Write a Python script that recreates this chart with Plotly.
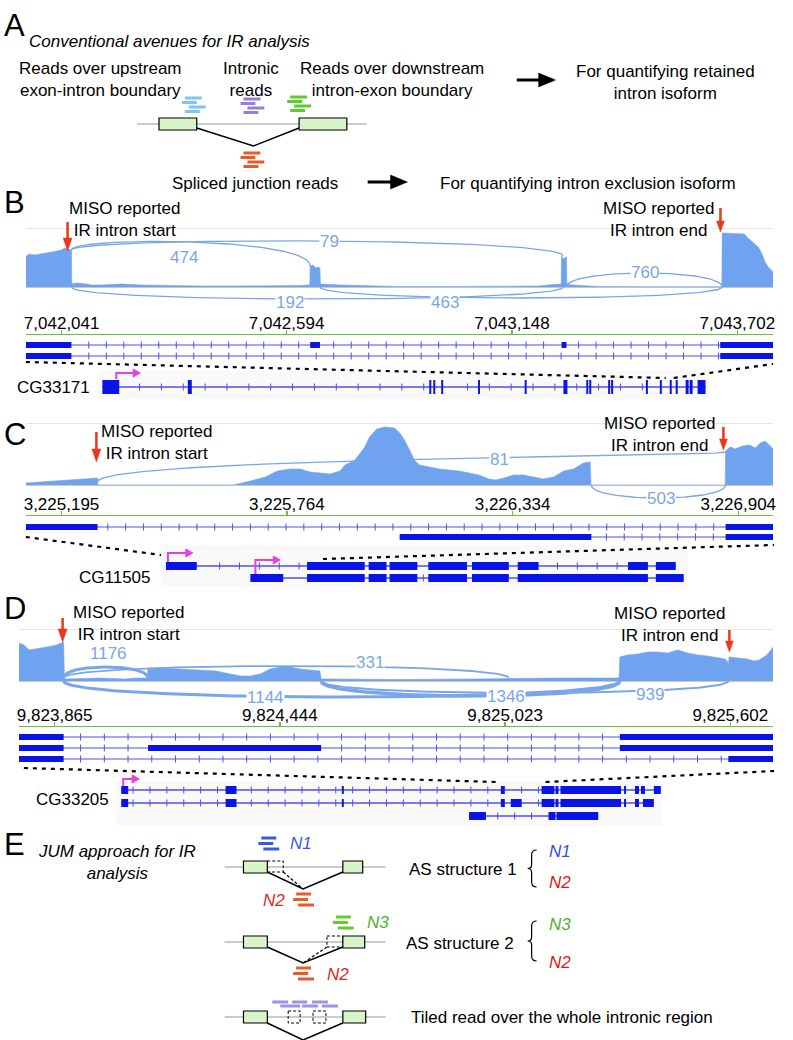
import numpy as np
import plotly.graph_objects as go

W, H = 793, 1040
OFF = 0
FONT = "Liberation Sans, Arial, Helvetica, sans-serif"

# ---------------- colours ----------------
COV = "#6fa3f0"
ARC = "#79a6ea"
EXON = "#0a14e6"
INTRON = "#4b50e6"
GREEN = "#6cbf3c"
RED = "#e8381e"
MAGENTA = "#e441e0"
BOXFILL = "#d7f5c8"

# ---------------- Panel B data (genomic offsets from window start) ----------------
B_start, B_end = 7041953, 7043790
B_ticks = [7042041, 7042594, 7043148, 7043702]
B_cov_pos = [0, 7, 22, 39, 51, 64, 76, 88, 95, 103, 112, 113, 125, 149, 161, 186, 234, 283, 332, 381,
             430, 528, 601, 674, 694, 698, 699, 706, 712, 718, 723, 724, 772, 821, 870, 918, 1041, 1163,
             1260, 1285, 1309, 1316, 1317, 1321, 1329, 1330, 1345, 1383, 1407, 1529, 1651, 1711, 1712,
             1766, 1778, 1790, 1800, 1810, 1817, 1825, 1837]
B_cov_val = [30, 33, 32, 33, 34, 35, 36, 37, 39, 38, 37, 3, 4, 3, 2, 2, 3, 2, 1.5, 1,
             1, 1, 1, 1.5, 2, 2, 21, 22, 19, 20, 19, 3, 2, 1.5, 1, 0.5, 0.5, 0.5,
             1, 2, 3, 3, 31, 28, 30, 3, 2, 1, 0.5, 0.3, 0.3, 0.3, 54,
             53, 48, 44, 40, 33, 25, 20, 15]
B_junc_from = [112, 112, 1329, 112, 723]
B_junc_to = [1321, 699, 1712, 1321, 1712]
B_junc_count = [79, 474, 760, 192, 463]
B_junc_y0 = [37, 37, 0, 0, 0]
B_junc_y1 = [31, 21, 0, 0, 0]
B_junc_peak = [46, 45, 14, -12, -11]
B_junc_label_pos = [747, 388, 1522, 650, 1031]
B_junc_label_y = [46, 30, 15, -15, -15]
B_junc_width = [1.3, 1.3, 1.3, 1.3, 1.3]
B_transcripts = [[(0, 112), (699, 723), (1317, 1329), (1707, 1837)],
                 [(0, 112), (1707, 1837)]]

# ---------------- Panel C data ----------------
C_start, C_end = 3225105, 3226992
C_ticks = [3225195, 3225764, 3226334, 3226904]
C_cov_pos = [0, 40, 78, 115, 153, 178, 181, 182, 524, 567, 605, 635, 668, 693, 718, 743, 768, 793,
             806, 831, 856, 868, 886, 906, 931, 944, 956, 969, 981, 994, 1044, 1094, 1144, 1169, 1187,
             1207, 1232, 1257, 1282, 1307, 1333, 1358, 1383, 1408, 1425, 1427, 1766, 1767, 1779, 1792,
             1809, 1827, 1842, 1855, 1867, 1877, 1887]
C_cov_val = [2, 3, 4, 5, 6, 7, 7, 0, 0, 4, 8, 14, 16, 16, 13, 12, 11, 14,
             20, 25, 38, 48, 56, 58, 57, 52, 45, 35, 25, 20, 16, 14, 10, 6, 5,
             7, 10, 10, 8, 6, 8, 14, 16, 22, 23, 0, 0, 34, 38, 36,
             39, 40, 37, 42, 44, 40, 36]
C_junc_from = [181, 1428]
C_junc_to = [1767, 1767]
C_junc_count = [81, 503]
C_junc_y0 = [3, 0]
C_junc_y1 = [33, 0]
C_junc_peak = [25.5, -13]
C_junc_label_pos = [1195, 1604]
C_junc_label_y = [26, -13]
C_junc_width = [1.3, 1.3]
C_transcripts = [[(0, 181), (1767, 1887)],
                 [(944, 1428), (1767, 1887)]]

# ---------------- Panel D data ----------------
D_start, D_end = 9823773, 9825712
D_ticks = [9823865, 9824444, 9825023, 9825602]
D_cov_pos = [0, 13, 26, 46, 72, 97, 110, 115, 117, 212, 271, 301, 330, 332, 365, 416, 467, 506,
             544, 570, 595, 621, 646, 672, 697, 723, 748, 774, 777, 978, 1175, 1259, 1387, 1543,
             1545, 1565, 1591, 1617, 1642, 1668, 1694, 1719, 1745, 1770, 1796, 1816, 1821, 1824,
             1826, 1847, 1872, 1890, 1903, 1923, 1939]
D_cov_val = [38, 36, 31, 32, 34, 36, 38, 39, 2, 3, 2, 3, 3, 13, 13, 12, 11, 10,
             7, 5, 5, 7, 12, 14, 14, 12, 11, 10, 2, 1.5, 2, 2.5, 3, 3,
             24, 26, 27, 29, 29, 28, 31, 28, 26, 25, 23, 22, 20, 16,
             24, 23, 22, 20, 21, 26, 34]
D_junc_from = [115, 115, 115, 777, 777]
D_junc_to = [332, 1259, 1545, 1545, 1824]
D_junc_count = [1176, 331, 1144, 1346, 939]
D_junc_y0 = [3, 3, 0, 0, 0]
D_junc_y1 = [3, 3, 0, 0, 0]
D_junc_peak = [14, 15, -16, -15, -12]
D_junc_label_pos = [230, 902, 633, 1252, 1622]
D_junc_label_y = [28, 19, -16, -15, -13]
D_junc_width = [3, 1.8, 3, 3.5, 2]
D_transcripts = [[(0, 115), (1545, 1939)],
                 [(0, 115), (332, 777), (1545, 1939)],
                 [(0, 115), (1824, 1939)]]

# ---------------- full gene models (schematic units) ----------------
B_gene_name = "CG33171"
B_gene_rows = [[(101, 118), (187, 191), (430, 432), (434, 436), (442, 444), (479, 481), (526, 528),
                (565, 569), (588, 590), (591, 593), (610, 612), (613, 615), (648, 650), (662, 664),
                (672, 674), (678, 680), (688, 691), (692, 695), (700, 708)]]
C_gene_name = "CG11505"
C_gene_rows = [[(165, 196), (307, 365), (369, 387), (390, 418), (429, 468), (473, 510), (519, 540),
                (630, 650), (658, 678)],
               [(250, 283), (307, 365), (369, 387), (390, 418), (429, 468), (473, 510), (519, 650),
                (658, 686)]]
D_gene_name = "CG33205"
D_gene_rows = [[(120, 127), (225, 236), (342, 344), (502, 506), (543, 556), (557, 560), (562, 623),
                (626, 628), (637, 641), (643, 647), (656, 663)],
               [(120, 127), (225, 236), (342, 344), (502, 506), (512, 523), (543, 556), (557, 560),
                (562, 623), (626, 628), (637, 641), (645, 656)],
               [(470, 487), (550, 557), (558, 600)]]

# ---------------- text ----------------
A_title = "<i>Conventional avenues for IR analysis</i>"
A_labels = ["Reads over upstream<br>exon-intron boundary", "Intronic<br>reads",
            "Reads over downstream<br>intron-exon boundary"]
A_outcomes = ["For quantifying retained<br>intron isoform", "For quantifying intron exclusion isoform"]
E_title = "<i>JUM approach for IR<br>analysis</i>"
E_structs = ["AS structure 1", "AS structure 2", "Tiled read over the whole intronic region"]

# =====================================================================
fig = go.Figure()
shapes = []
annots = []


def line(x0, y0, x1, y1, color="black", width=1.0, dash=None, xref="x", yref="y", layer="above"):
    d = dict(type="line", x0=x0, y0=y0, x1=x1, y1=y1, xref=xref, yref=yref, layer=layer,
             line=dict(color=color, width=width))
    if dash:
        d["line"]["dash"] = dash
    shapes.append(d)


def rect(x0, y0, x1, y1, fill, color=None, width=0, dash=None, xref="x", yref="y", layer="above"):
    d = dict(type="rect", x0=x0, y0=y0, x1=x1, y1=y1, xref=xref, yref=yref, layer=layer,
             fillcolor=fill, line=dict(color=color or fill, width=width))
    if dash:
        d["line"]["dash"] = dash
    shapes.append(d)


def path(p, fill=None, color="black", width=1.0, xref="x", yref="y"):
    d = dict(type="path", path=p, xref=xref, yref=yref, line=dict(color=color, width=width))
    d["fillcolor"] = fill if fill else "rgba(0,0,0,0)"
    shapes.append(d)


def text(t, x, y, size=17, color="black", xanchor="center", align="center", xref="x", yref="y",
         bg=None):
    a = dict(text=t, x=x, y=y, xref=xref, yref=yref, showarrow=False, xanchor=xanchor,
             yanchor="middle", align=align, font=dict(family=FONT, size=size, color=color))
    if bg:
        a.update(bgcolor=bg, borderpad=0)
    annots.append(a)


def bez(x0, x1, y0, y1, peak, n=120):
    c = (peak - (y0 + y1) / 8.0) / 0.75
    t = np.linspace(0, 1, n)
    x = ((1 - t) ** 3 + 3 * (1 - t) ** 2 * t) * x0 + (3 * (1 - t) * t ** 2 + t ** 3) * x1
    y = (1 - t) ** 3 * y0 + 3 * (1 - t) * t * c + t ** 3 * y1
    return x, y


def sashimi(xa, ya_cov, ya_gene, start, cov_pos, cov_val, jf, jt, jc, jy0, jy1, jpk, jlp, jly, jw,
            transcripts, row_vals, chev_step):
    fig.add_trace(go.Scatter(x=start + np.asarray(cov_pos), y=cov_val, mode="lines",
                             line=dict(width=0.6, color=COV), fill="tozeroy", fillcolor=COV,
                             xaxis=xa, yaxis=ya_cov, hoverinfo="skip", showlegend=False))
    for i in range(len(jf)):
        x, y = bez(start + jf[i], start + jt[i], jy0[i], jy1[i], jpk[i])
        fig.add_trace(go.Scatter(x=x, y=y, mode="lines", line=dict(width=jw[i], color=ARC),
                                 xaxis=xa, yaxis=ya_cov, hoverinfo="skip", showlegend=False))
    for i in range(len(jf)):
        text(str(jc[i]), start + jlp[i], jly[i], size=17, color=ARC, xref=xa, yref=ya_cov, bg="white")
    cx, cy, wx, wy = [], [], [], []
    for exons, rv in zip(transcripts, row_vals):
        s = start + exons[0][0]
        e = start + exons[-1][1]
        line(s, rv, e, rv, color=INTRON, width=1.2, xref=xa, yref=ya_gene)
        for a, b in exons:
            rect(start + a, rv - 3, start + b, rv + 3, EXON, xref=xa, yref=ya_gene)
        for p in np.arange(s + chev_step * 0.6, e, chev_step):
            inside = [(start + a + 6 <= p <= start + b - 6) for a, b in exons]
            if all(not (start + a - 4 <= p <= start + b + 4) for a, b in exons):
                cx.append(p)
                cy.append(rv)
            elif any(inside):
                wx.append(p)
                wy.append(rv)
    fig.add_trace(go.Scatter(x=cx, y=cy, mode="markers",
                             marker=dict(symbol="line-ns", size=5, line=dict(width=1, color=INTRON)),
                             xaxis=xa, yaxis=ya_gene, hoverinfo="skip", showlegend=False))
    fig.add_trace(go.Scatter(x=wx, y=wy, mode="markers",
                             marker=dict(symbol="line-ns", size=3,
                                         line=dict(width=0.8, color="rgba(255,255,255,0.6)")),
                             xaxis=xa, yaxis=ya_gene, hoverinfo="skip", showlegend=False))


def gene_model(name, rows, row_y, h, name_x, name_y, bg, chev_step, tss):
    rect(bg[0], bg[1], bg[2], bg[3], "#f9f9f9", layer="below")
    cx, cy = [], []
    for exons, ry in zip(rows, row_y):
        line(exons[0][0], ry, exons[-1][1], ry, color=INTRON, width=1.5)
        for a, b in exons:
            rect(a, ry - h / 2, b, ry + h / 2, EXON)
        for p in np.arange(exons[0][0] + chev_step * 0.7, exons[-1][1], chev_step):
            if all(not (a - 3 <= p <= b + 3) for a, b in exons):
                cx.append(p)
                cy.append(ry)
    fig.add_trace(go.Scatter(x=cx, y=cy, mode="markers",
                             marker=dict(symbol="line-ns", size=5, line=dict(width=1, color=INTRON)),
                             xaxis="x", yaxis="y", hoverinfo="skip", showlegend=False))
    text(name, name_x, name_y)
    for (x, yb, yt, xe) in tss:
        path(f"M {x},{yb} L {x},{yt} L {xe - 6},{yt}", color=MAGENTA, width=2)
        path(f"M {xe - 7},{yt - 4} L {xe},{yt} L {xe - 7},{yt + 4} Z", fill=MAGENTA, color=MAGENTA, width=1)


def red_arrow(x, y0, y1, hl=13, hw=9):
    line(x, y0, x, y1 - hl + 2, color=RED, width=2.5)
    path(f"M {x - hw / 2},{y1 - hl} L {x + hw / 2},{y1 - hl} L {x},{y1} Z", fill=RED, color=RED, width=0.5)


def black_arrow(x0, x1, y, hl=17, hw=14):
    line(x0, y, x1 - hl + 2, y, color="black", width=3)
    path(f"M {x1 - hl},{y - hw / 2} L {x1},{y} L {x1 - hl},{y + hw / 2} Z", fill="black", color="black",
         width=0.5)


def reads(a, y0, color, pattern):
    for (u, v, dy) in pattern:
        line(a + u, y0 + dy, a + v, y0 + dy, color=color, width=3)


READ4 = [(3, 20, 0), (0, 15, 4.5), (7, 24, 9), (3, 18, 13.5)]
READ3 = [(3, 18, 0), (0, 15, 5.5), (5, 21, 11)]


def exon_box(x0, x1, y0, y1):
    rect(x0, y0, x1, y1, BOXFILL, color="black", width=1.2)


def brace(x, y0, y1):
    ym = (y0 + y1) / 2
    path(f"M {x + 5},{y0} Q {x},{y0} {x},{y0 + 5} L {x},{ym - 4} Q {x},{ym} {x - 4},{ym} "
         f"Q {x},{ym} {x},{ym + 4} L {x},{y1 - 5} Q {x},{y1} {x + 5},{y1}", color="black", width=1.2)


# ---------------- Panel A ----------------
text("A", 0, 25, size=31, xanchor="left")
text(A_title, 25, 41, xanchor="left")
text(A_labels[0], 99, 79)
text(A_labels[1], 251, 79)
text(A_labels[2], 392, 79)
black_arrow(518, 557, 80)
text(A_outcomes[0], 668, 82)
line(136, 124, 367, 124, color="#8c9c9c", width=1.2)
path("M 196,128 L 253,146 L 299,128", color="black", width=1.5)
exon_box(158, 196, 118, 130)
exon_box(299, 347, 118, 130)
reads(181, 98, "#78c8f0", READ4)
reads(240, 99, "#9280e0", READ4)
reads(287, 97, "#5ccc2e", READ4)
reads(240, 153, "#e85a28", READ4)
text("Spliced junction reads", 255, 183)
black_arrow(368, 408, 182)
text(A_outcomes[1], 590, 183)

# ---------------- Panel B ----------------
text("B", 0, 202, size=31, xanchor="left")
text("MISO reported<br>IR intron start", 124, 219)
red_arrow(66, 222, 251)
text("MISO reported<br>IR intron end", 661, 219)
red_arrow(723, 208, 232, hl=11, hw=8)
sashimi("x2", "y2", "y3", B_start, B_cov_pos, B_cov_val, B_junc_from, B_junc_to, B_junc_count,
        B_junc_y0, B_junc_y1, B_junc_peak, B_junc_label_pos, B_junc_label_y, B_junc_width,
        B_transcripts, [17, 6], 43)
line(24, 362, 668, 378, width=2.2, dash="4px,5px")
line(676, 378, 776, 364, width=2.2, dash="4px,5px")
gene_model(B_gene_name, B_gene_rows, [387], 14, 52, 387, (97, 371, 712, 399), 22, [(115, 379, 373, 139)])

# ---------------- Panel C ----------------
text("C", 0, 434, size=31, xanchor="left")
text("MISO reported<br>IR intron start", 156, 442)
red_arrow(95, 432, 462)
text("MISO reported<br>IR intron end", 662, 434)
red_arrow(726, 427, 450, hl=11, hw=8)
sashimi("x3", "y4", "y5", C_start, C_cov_pos, C_cov_val, C_junc_from, C_junc_to, C_junc_count,
        C_junc_y0, C_junc_y1, C_junc_peak, C_junc_label_pos, C_junc_label_y, C_junc_width,
        C_transcripts, [18, 8], 45)
line(24, 537, 160, 555, width=2.2, dash="4px,5px")
line(323, 559, 777, 545, width=2.2, dash="4px,5px")
gene_model(C_gene_name, C_gene_rows, [566, 578], 8, 114, 577, (160, 545, 690, 587), 20,
           [(167, 562, 553, 192), (255, 574, 560, 280)])

# ---------------- Panel D ----------------
text("D", 0, 608, size=31, xanchor="left")
text("MISO reported<br>IR intron start", 128, 623)
red_arrow(61, 618, 642)
text("MISO reported<br>IR intron end", 672, 624)
red_arrow(732, 630, 652, hl=11, hw=8)
sashimi("x4", "y6", "y7", D_start, D_cov_pos, D_cov_val, D_junc_from, D_junc_to, D_junc_count,
        D_junc_y0, D_junc_y1, D_junc_peak, D_junc_label_pos, D_junc_label_y, D_junc_width,
        D_transcripts, [28, 17, 6], 61)
line(22, 768, 497, 782, width=2.2, dash="4px,5px")
line(547, 782, 777, 771, width=2.2, dash="4px,5px")
gene_model(D_gene_name, D_gene_rows, [790, 803, 816], 8, 71, 799, (115, 781, 665, 826), 17,
           [(122, 786, 779, 138)])

# ---------------- Panel E ----------------
text("E", 0, 844, size=31, xanchor="left")
text(E_title, 116, 862)
# structure 1
line(224, 867, 386, 867, color="#8c9c9c", width=1.2)
path("M 267,872 L 303,889 L 343,872", width=1.5)
line(283, 872, 303, 889, width=1.2, dash="3px,2px")
rect(267, 861, 283, 872, "rgba(0,0,0,0)", color="black", width=1, dash="3px,2px")
exon_box(243, 267, 861, 873)
exon_box(343, 363, 861, 873)
reads(258, 838, "#3a5ae0", READ3)
text("<i>N1</i>", 288, 843, color="#3a5ae0", xanchor="left")
reads(293, 894, "#e85a28", READ3)
text("<i>N2</i>", 287, 900, color="#dd2a1a", xanchor="right")
# structure 2
line(224, 942, 386, 942, color="#8c9c9c", width=1.2)
path("M 267,947 L 303,963 L 343,947", width=1.5)
line(327, 947, 303, 963, width=1.2, dash="3px,2px")
rect(327, 936, 343, 947, "rgba(0,0,0,0)", color="black", width=1, dash="3px,2px")
exon_box(243, 267, 936, 948)
exon_box(343, 365, 936, 948)
reads(333, 917, "#62cc30", READ3)
text("<i>N3</i>", 365, 922, color="#50b030", xanchor="left")
reads(293, 968, "#e85a28", READ3)
text("<i>N2</i>", 325, 974, color="#dd2a1a", xanchor="left")
# structure 3
line(224, 1017, 386, 1017, color="#8c9c9c", width=1.2)
path("M 267,1023 L 303,1040 L 343,1023", width=1.5)
rect(288, 1011, 300, 1023, "rgba(0,0,0,0)", color="black", width=1, dash="3px,2px")
rect(313, 1011, 326, 1023, "rgba(0,0,0,0)", color="black", width=1, dash="3px,2px")
exon_box(243, 267, 1011, 1023)
exon_box(343, 366, 1011, 1023)
for (u, v, yy) in [(272, 288, 1002), (292, 307, 1002), (312, 328, 1002),
                   (280, 300, 1006), (302, 318, 1006), (322, 338, 1006)]:
    line(u, yy, v, yy, color="#a28fe8", width=3)
# right side
text(E_structs[0], 464, 869)
brace(533, 850, 887)
text("<i>N1</i>", 548, 851, color="#3050e0", xanchor="left")
text("<i>N2</i>", 548, 882, color="#d42020", xanchor="left")
text(E_structs[1], 461, 943)
brace(533, 921, 961)
text("<i>N3</i>", 548, 924, color="#50b030", xanchor="left")
text("<i>N2</i>", 548, 962, color="#d42020", xanchor="left")
text(E_structs[2], 410, 1017, xanchor="left")


# ---------------- layout ----------------
def dx(l, r):
    return [max(0, (l - OFF) / W), min(1, (r - OFF) / W)]


def dy(t, b):
    return [max(0, 1 - (b - OFF) / H), min(1, 1 - (t - OFF) / H)]


def gen_xaxis(dom, rng, anchor, ticks):
    return dict(domain=dom, range=rng, anchor=anchor, side="top", showline=True, linecolor=GREEN,
                linewidth=1.5, ticks="outside", tickcolor=GREEN, ticklen=4, tickwidth=1.5,
                tickvals=ticks, tickformat=",d", tickfont=dict(family=FONT, size=17, color="black"),
                ticklabelstandoff=-6, showgrid=False, zeroline=False, fixedrange=True)


def cov_yaxis(dom, rng, anchor, grid):
    return dict(domain=dom, range=rng, anchor=anchor, showgrid=True, gridcolor="#e6e6e6",
                gridwidth=1, tickvals=[grid], showticklabels=False, ticks="", zeroline=True,
                zerolinecolor="#c8c8c8", zerolinewidth=1, showline=False, fixedrange=True)


def gene_yaxis(dom, rng, anchor):
    return dict(domain=dom, range=rng, anchor=anchor, visible=False, fixedrange=True)


fig.update_layout(
    width=W, height=H, margin=dict(l=0, r=0, t=0, b=0),
    paper_bgcolor="white", plot_bgcolor="rgba(0,0,0,0)", showlegend=False,
    xaxis=dict(domain=[0, 1], range=[OFF, W + OFF], visible=False, fixedrange=True),
    yaxis=dict(domain=[0, 1], range=[H + OFF, OFF], visible=False, fixedrange=True),
    xaxis2=gen_xaxis(dx(24, 776), [B_start, B_end], "y3", B_ticks),
    yaxis2=cov_yaxis(dy(226, 307), [-20, 61], "x2", 59),
    yaxis3=gene_yaxis(dy(335, 362), [0, 27], "x2"),
    xaxis3=gen_xaxis(dx(24, 776), [C_start, C_end], "y5", C_ticks),
    yaxis4=cov_yaxis(dy(421, 505), [-20, 64], "x3", 62),
    yaxis5=gene_yaxis(dy(516, 545), [0, 29], "x3"),
    xaxis4=gen_xaxis(dx(17, 776), [D_start, D_end], "y7", D_ticks),
    yaxis6=cov_yaxis(dy(627, 701), [-20, 54], "x4", 52),
    yaxis7=gene_yaxis(dy(727, 765), [0, 38], "x4"),
    shapes=shapes, annotations=annots,
)

fig.write_html("out.html", config={"displayModeBar": False, "staticPlot": True},
               post_script="document.body.style.margin='0';document.body.style.overflow='hidden';")
